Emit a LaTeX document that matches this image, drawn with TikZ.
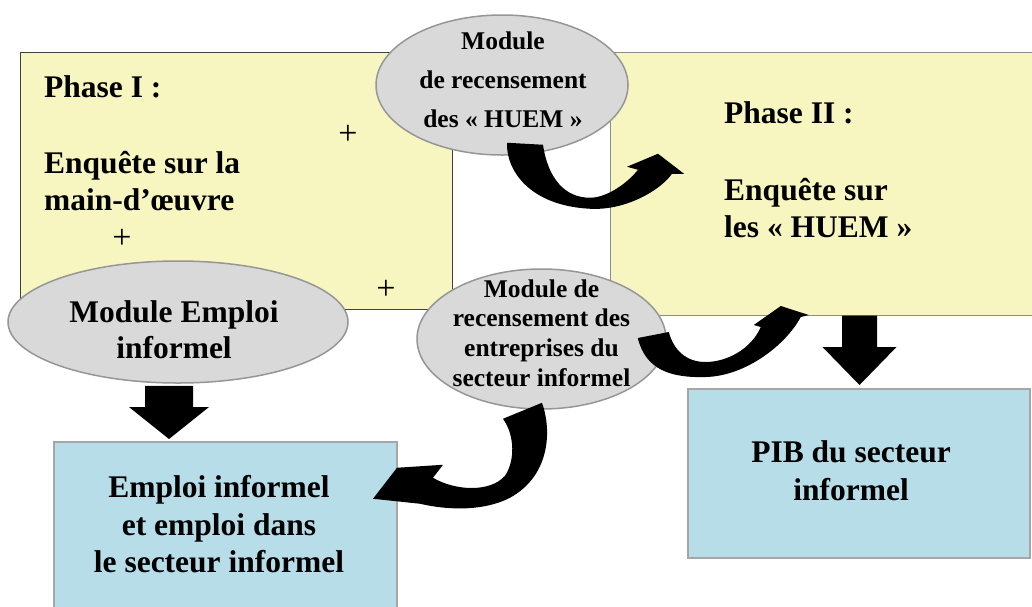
\documentclass[tikz,border=0pt]{standalone}
\usepackage{fontspec}
\setmainfont{Liberation Serif}
\usetikzlibrary{shapes.geometric,calc}
\definecolor{yel}{RGB}{247,246,192}
\definecolor{pAbord}{RGB}{64,64,64}
\definecolor{pBbord}{RGB}{140,140,140}
\definecolor{ellfill}{RGB}{217,217,217}
\definecolor{ellbord}{RGB}{150,150,150}
\definecolor{bluefill}{RGB}{183,221,232}
\definecolor{bluebord}{RGB}{166,166,166}
\tikzset{
  txt/.style={font=\bfseries\fontsize{31.5}{37}\selectfont, inner sep=0pt},
  etxt/.style={font=\bfseries\fontsize{25.5}{39}\selectfont, inner sep=0pt, align=center},
  phasebox/.style={rectangle, fill=yel, line width=1pt, inner sep=0pt},
  resbox/.style={rectangle, draw=bluebord, fill=bluefill, line width=2pt, inner sep=0pt},
  modell/.style={ellipse, draw=ellbord, fill=ellfill, line width=1.5pt, inner sep=0pt},
  blockarrow/.style={fill=black},
  plussign/.style={font=\fontsize{34}{34}\selectfont, inner sep=0pt}
}
\begin{document}
\begin{tikzpicture}[x=1pt,y=-1pt]
\useasboundingbox (0,0) rectangle (1032,606);
% phase boxes
\node[phasebox, draw=pBbord, minimum width=435pt, minimum height=263pt] (ph2) at (827.5,183.5) {};
\node[phasebox, draw=pAbord, minimum width=432pt, minimum height=257pt] (ph1) at (236,180.5) {};
\node[txt, anchor=base west] (ph1title) at (44,97) {Phase I :};
\node[txt, anchor=base west] (ph1a) at (44,173) {Enquête sur la};
\node[txt, anchor=base west] (ph1b) at (44,210) {main-d’œuvre};
\node[txt, anchor=base west] (ph2title) at (724,123) {Phase II :};
\node[txt, anchor=base west] (ph2a) at (724,200) {Enquête sur};
\node[txt, anchor=base west] (ph2b) at (724,237) {les « HUEM »};
\node[plussign] (plusA) at (348,135) {+};
\node[plussign] (plusB) at (122,239) {+};
\node[plussign] (plusC) at (386,290) {+};
% result boxes
\node[resbox, minimum width=343pt, minimum height=178pt] (res1) at (225.5,531) {};
\node[resbox, minimum width=342pt, minimum height=169pt] (pib) at (859,473.5) {};
\node[txt, align=center, font=\bfseries\fontsize{31.5}{37.5}\selectfont] (res1txt) at (219,524.5) {Emploi informel\\et emploi dans\\le secteur informel};
\node[txt, align=center, font=\bfseries\fontsize{31.5}{38}\selectfont] (pibtxt) at (851,470.5) {PIB du secteur\\informel};
% modules
\node[modell, minimum width=252pt, minimum height=140pt] (mhuem) at (502,85) {};
\node[modell, minimum width=249pt, minimum height=140pt] (mentr) at (541.5,339) {};
\node[modell, minimum width=340pt, minimum height=122pt] (memp) at (178,322) {};
\node[etxt] (mhuemtxt) at (503,80) {Module\\de recensement\\des « HUEM »};
\node[etxt, font=\bfseries\fontsize{25.5}{29.7}\selectfont] (mentrtxt) at (541.5,333) {Module de\\recensement des\\entreprises du\\secteur informel};
\node[txt, align=center, font=\bfseries\fontsize{31.5}{36}\selectfont] (memptxt) at (174,329.5) {Module Emploi\\informel};
% straight block arrows
\coordinate (dAtop) at ($(memp.south)+(-9,2)$);
\coordinate (dAtip) at ($(res1.north)+(-56.5,-2)$);
\fill[blockarrow] ($(dAtop)+(-24,0)$) -- ($(dAtop)+(24,0)$) -- ($(dAtip)+(24,-32)$) -- ($(dAtip)+(40,-32)$) -- (dAtip) -- ($(dAtip)+(-40,-32)$) -- ($(dAtip)+(-24,-32)$) -- cycle;
\coordinate (dBtop) at ($(ph2.south)+(32,0)$);
\coordinate (dBtip) at ($(pib.north)+(0.5,-3)$);
\fill[blockarrow] ($(dBtop)+(-17.5,0)$) -- ($(dBtop)+(17.5,0)$) -- ($(dBtip)+(17.5,-38)$) -- ($(dBtip)+(37,-38)$) -- (dBtip) -- ($(dBtip)+(-37,-38)$) -- ($(dBtip)+(-17.5,-38)$) -- cycle;
% curved block arrows
\begin{scope}[shift={($(mhuem.south)-(502,155)$)}]
\fill[blockarrow] (507,142) .. controls (506,170) and (530,205) .. (590,208)
  .. controls (625,210) and (660,190) .. (672,173) -- (684,173) -- (658,153) -- (627,166) -- (638,169)
  .. controls (625,185) and (605,197) .. (590,197) .. controls (565,197) and (548,178) .. (543,144) -- cycle;
\end{scope}
\begin{scope}[shift={($(mentr.east)-(666,339)$)}]
\fill[blockarrow] (637,338) .. controls (645,370) and (670,378) .. (705,377)
  .. controls (745,376) and (785,345) .. (800,317) -- (808,315) -- (780,306) -- (753,325) -- (760,327)
  .. controls (750,350) and (725,362) .. (705,362) .. controls (685,362) and (673,350) .. (668,332) -- cycle;
\end{scope}
\begin{scope}[shift={($(mentr.south)-(541.5,409)$)}]
\fill[blockarrow] (503,418) -- (542,402) .. controls (552,430) and (550,475) .. (510,497)
  .. controls (485,510) and (450,510) .. (420,503) -- (373,498) -- (397,467) -- (443,464) -- (433,477)
  .. controls (455,490) and (490,492) .. (505,475) .. controls (515,460) and (515,435) .. (503,418) -- cycle;
\end{scope}
\end{tikzpicture}
\end{document}
